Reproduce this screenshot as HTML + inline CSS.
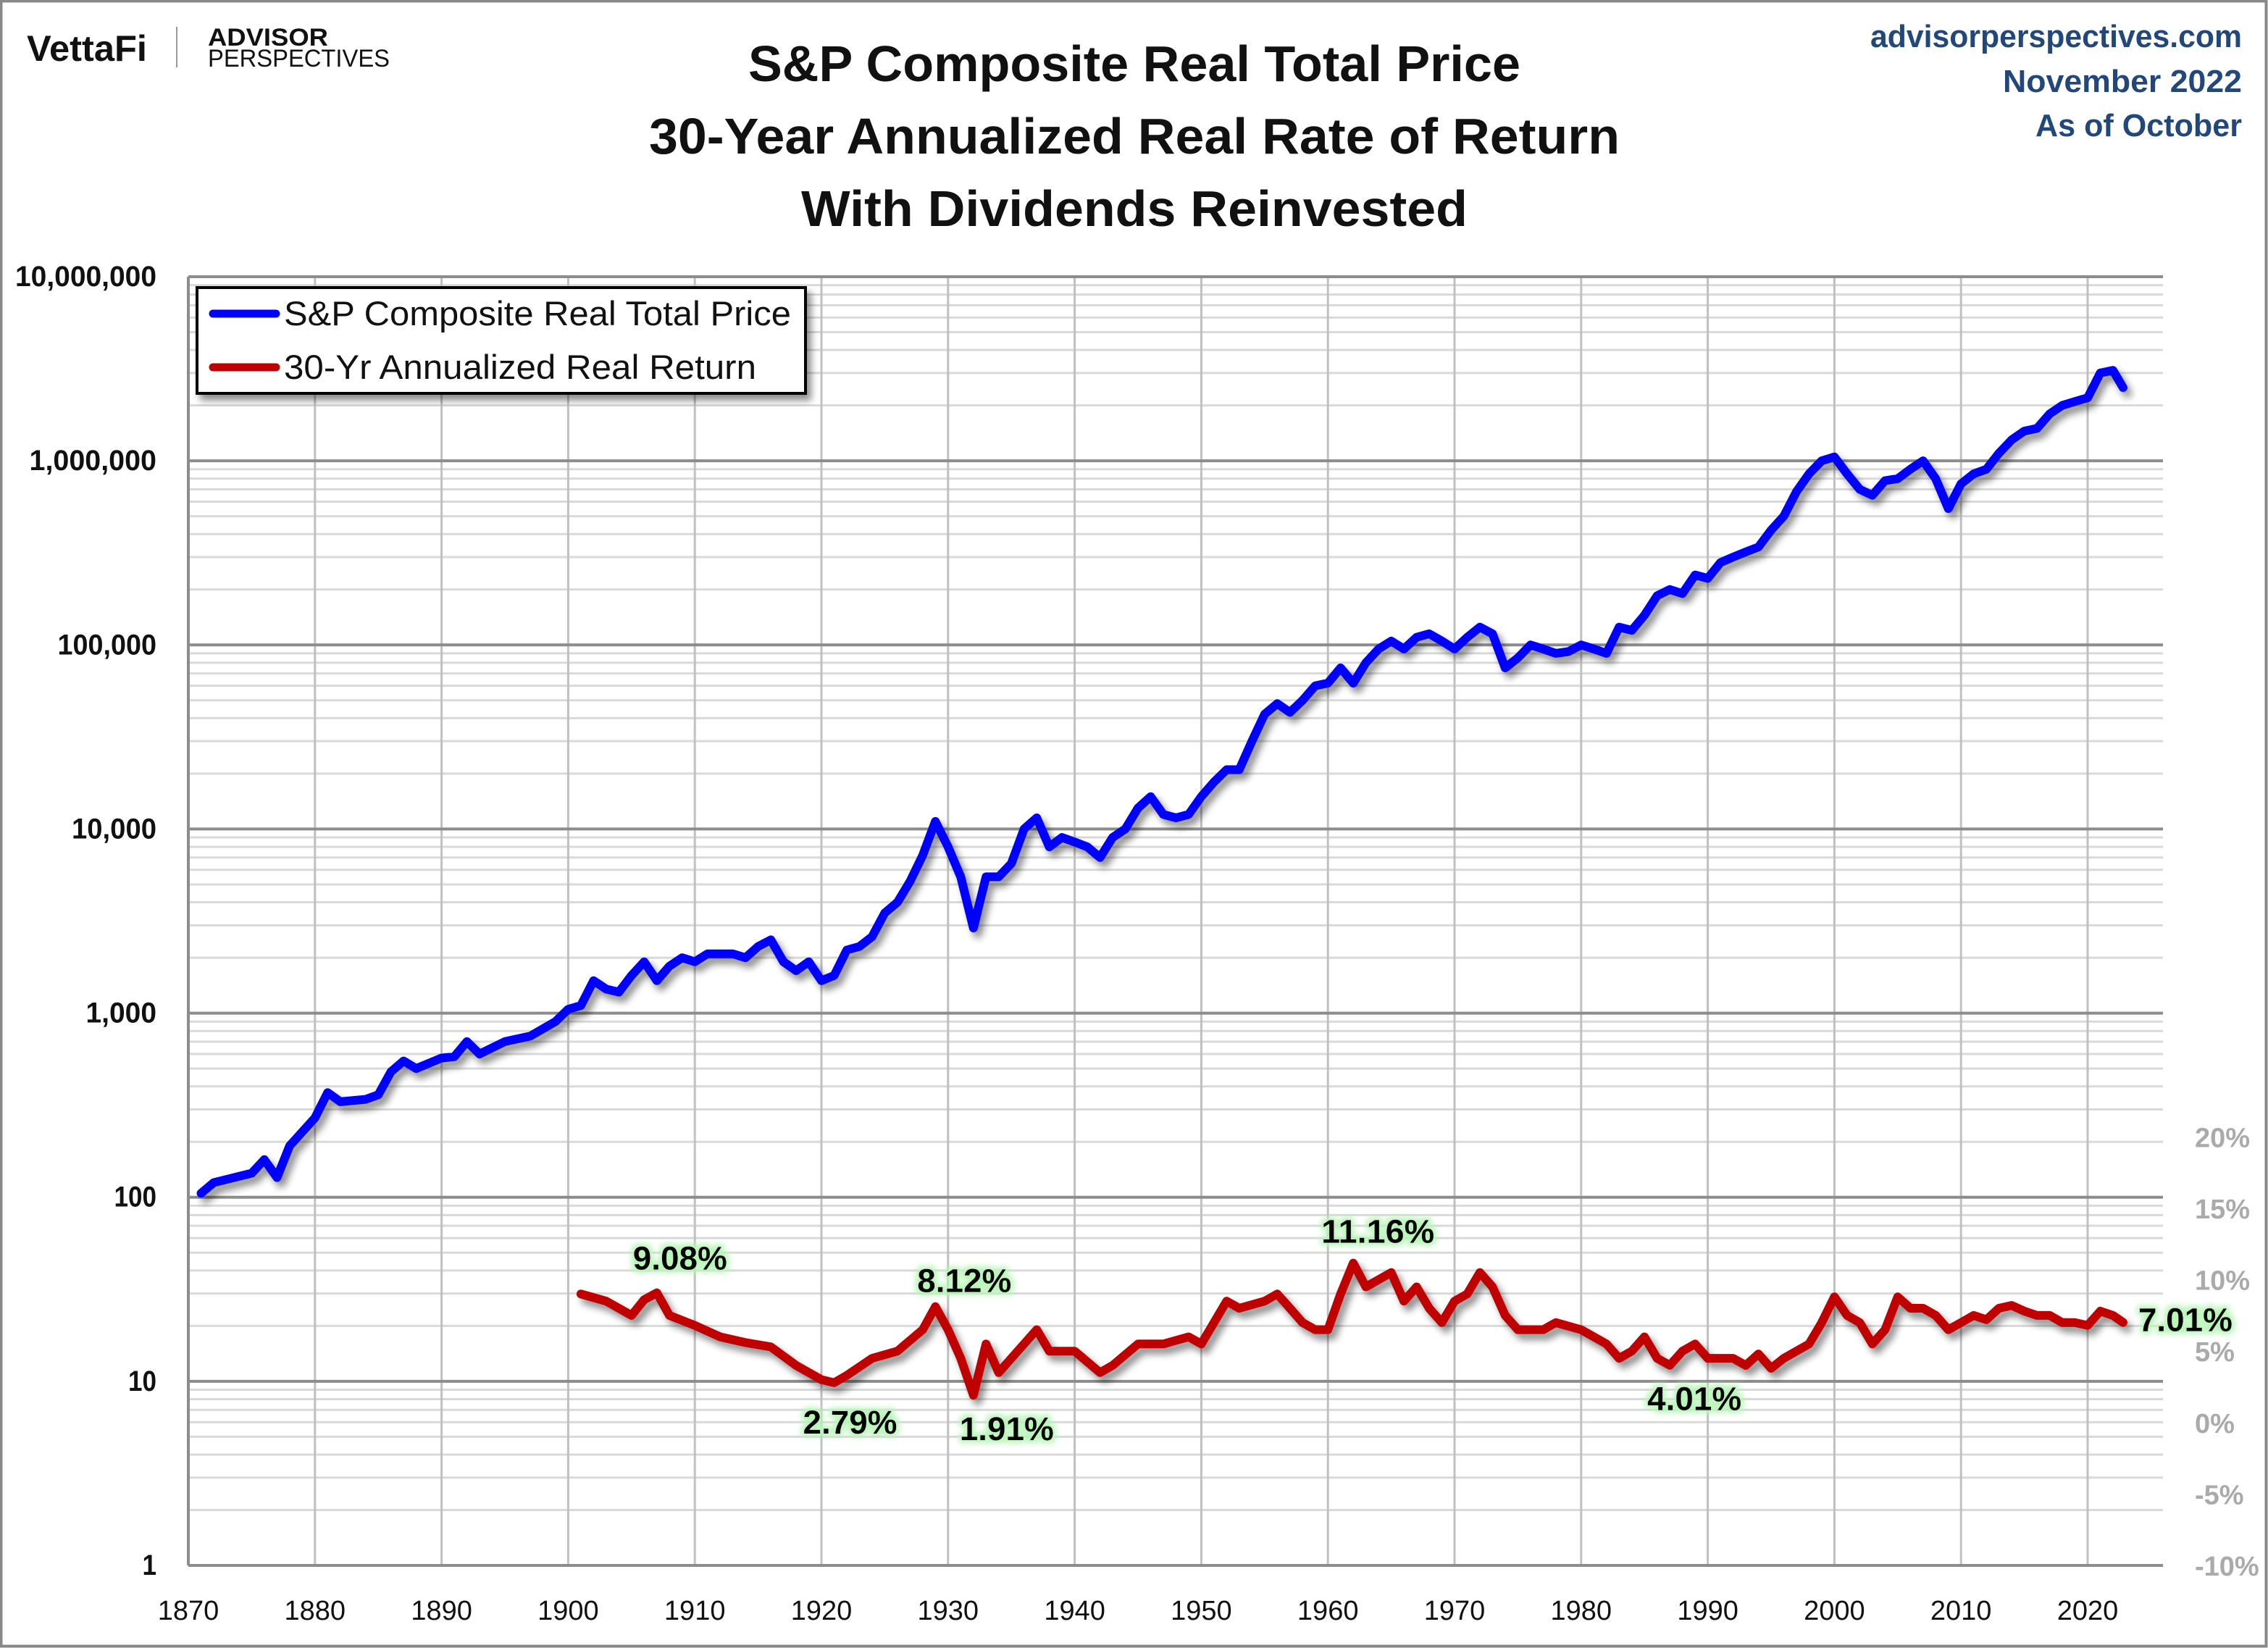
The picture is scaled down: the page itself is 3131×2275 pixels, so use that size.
<!DOCTYPE html>
<html><head><meta charset="utf-8"><style>
html,body{margin:0;padding:0;background:#fff}
svg{display:block}
text{font-family:"Liberation Sans",sans-serif}
</style></head><body>
<svg id="chart" width="3131" height="2275" viewBox="0 0 3131 2275" xmlns="http://www.w3.org/2000/svg">
<defs>
<filter id="sh" x="-5%" y="-5%" width="110%" height="120%"><feGaussianBlur in="SourceAlpha" stdDeviation="5"/><feOffset dx="6" dy="8"/><feComponentTransfer><feFuncA type="linear" slope="0.45"/></feComponentTransfer><feMerge><feMergeNode/><feMergeNode in="SourceGraphic"/></feMerge></filter>
<filter id="glow" x="-20%" y="-40%" width="140%" height="180%"><feMorphology in="SourceAlpha" operator="dilate" radius="4" result="d"/><feGaussianBlur in="d" stdDeviation="4" result="b"/><feFlood flood-color="#b8f5b8"/><feComposite in2="b" operator="in"/><feMerge><feMergeNode/><feMergeNode in="SourceGraphic"/></feMerge></filter>
</defs>
<rect x="1.5" y="1.5" width="3127" height="2271" fill="#fff" stroke="#888" stroke-width="4"/>
<g>
<text x="37" y="84" font-size="50" font-weight="bold" textLength="166" lengthAdjust="spacingAndGlyphs" fill="#111">VettaFi</text>
<line x1="244" y1="37" x2="244" y2="93" stroke="#999" stroke-width="2"/>
<text x="287" y="63" font-size="34" font-weight="bold" textLength="166" lengthAdjust="spacingAndGlyphs" fill="#111">ADVISOR</text>
<text x="287" y="92" font-size="34" textLength="251" lengthAdjust="spacingAndGlyphs" fill="#111">PERSPECTIVES</text>
</g>
<g font-weight="bold" font-size="70" fill="#111" text-anchor="middle">
<text x="1566" y="112" textLength="1066" lengthAdjust="spacingAndGlyphs">S&amp;P Composite Real Total Price</text>
<text x="1566" y="212" textLength="1340" lengthAdjust="spacingAndGlyphs">30-Year Annualized Real Rate of Return</text>
<text x="1566" y="312" textLength="920" lengthAdjust="spacingAndGlyphs">With Dividends Reinvested</text>
</g>
<g font-weight="bold" font-size="44" fill="#22477a" text-anchor="end">
<text x="3095" y="65" textLength="513" lengthAdjust="spacingAndGlyphs">advisorperspectives.com</text>
<text x="3095" y="127" textLength="330" lengthAdjust="spacingAndGlyphs">November 2022</text>
<text x="3095" y="188" textLength="285" lengthAdjust="spacingAndGlyphs">As of October</text>
</g>
<g id="grid"></g>
<g id="axes"></g>
<g id="series"></g>
<g id="annots"></g>
<g filter="url(#sh)">
<rect x="272" y="397" width="840" height="146" fill="#fff" stroke="#000" stroke-width="4"/>
</g>
<g>
<line x1="294" y1="433" x2="381" y2="433" stroke="#0000ff" stroke-width="11" stroke-linecap="round"/>
<text x="392" y="449" font-size="47" textLength="700" lengthAdjust="spacingAndGlyphs" fill="#111">S&amp;P Composite Real Total Price</text>
<line x1="294" y1="507" x2="381" y2="507" stroke="#c00000" stroke-width="11" stroke-linecap="round"/>
<text x="392" y="523" font-size="47" textLength="652" lengthAdjust="spacingAndGlyphs" fill="#111">30-Yr Annualized Real Return</text>
</g>
</svg>
<script>
const priceYears=[1871,1872,1875,1876,1877,1878,1880,1881,1882,1884,1885,1886,1887,1888,1890,1891,1892,1893,1895,1897,1899,1900,1901,1902,1903,1904,1905,1906,1907,1908,1909,1910,1911,1913,1914,1915,1916,1917,1918,1919,1920,1921,1922,1923,1924,1925,1926,1927,1928,1929,1930,1931,1932,1933,1934,1935,1936,1937,1938,1939,1940,1941,1942,1943,1944,1945,1946,1947,1948,1949,1950,1951,1952,1953,1954,1955,1956,1957,1958,1959,1960,1961,1962,1963,1964,1965,1966,1967,1968,1969,1970,1971,1972,1973,1974,1975,1976,1977,1978,1979,1980,1981,1982,1983,1984,1985,1986,1987,1988,1989,1990,1991,1992,1993,1994,1995,1996,1997,1998,1999,2000,2001,2002,2003,2004,2005,2006,2007,2008,2009,2010,2011,2012,2013,2014,2015,2016,2017,2018,2019,2020,2021,2022,2022.8];
const priceValues=[105,120,135,160,128,190,270,370,330,340,360,480,550,500,570,580,700,600,700,750,900,1050,1100,1500,1350,1300,1600,1900,1500,1800,2000,1900,2100,2100,2000,2300,2500,1900,1700,1900,1500,1600,2200,2300,2600,3500,4000,5200,7200,11000,8000,5500,2900,5500,5500,6500,10000,11500,8000,9000,8500,8000,7000,9000,10000,13000,15000,12000,11500,12000,15000,18000,21000,21000,30000,42000,48000,43000,50000,60000,62000,75000,62000,80000,95000,105000,95000,110000,115000,105000,95000,110000,125000,115000,75000,85000,100000,95000,90000,92000,100000,95000,90000,125000,120000,145000,185000,200000,190000,240000,230000,280000,300000,320000,340000,420000,500000,680000,850000,1000000,1050000,850000,700000,650000,780000,800000,900000,1000000,800000,550000,750000,850000,900000,1100000,1300000,1450000,1500000,1800000,2000000,2100000,2200000,3000000,3100000,2500000];
const retYears=[1901,1903,1905,1906,1907,1908,1910,1912,1914,1916,1918,1920,1921,1922,1924,1926,1928,1929,1930,1931,1932,1933,1934,1936,1937,1938,1940,1942,1943,1945,1947,1949,1950,1951,1952,1953,1955,1956,1957,1958,1959,1960,1961,1962,1963,1964,1965,1966,1967,1968,1969,1970,1971,1972,1973,1974,1975,1977,1978,1980,1982,1983,1984,1985,1986,1987,1988,1989,1990,1992,1993,1994,1995,1996,1998,1999,2000,2001,2002,2003,2004,2005,2006,2007,2008,2009,2010,2011,2012,2013,2014,2015,2016,2017,2018,2019,2020,2021,2022,2022.8];
const retValues=[9.0,8.5,7.5,8.6,9.08,7.5,6.8,6.0,5.6,5.3,4.0,3.0,2.79,3.3,4.5,5.0,6.5,8.12,6.5,4.5,1.91,5.5,3.5,5.5,6.5,5.0,5.0,3.5,4.0,5.5,5.5,6.0,5.5,7.0,8.5,8.0,8.5,9.0,8.0,7.0,6.5,6.5,9.0,11.16,9.5,10.0,10.5,8.5,9.5,8.0,7.0,8.5,9.0,10.5,9.5,7.5,6.5,6.5,7.0,6.5,5.5,4.5,5.0,6.0,4.5,4.01,5.0,5.5,4.5,4.5,4.0,4.8,3.8,4.5,5.5,7.0,8.8,7.5,7.0,5.5,6.5,8.8,8.0,8.0,7.5,6.5,7.0,7.5,7.2,8.0,8.2,7.8,7.5,7.5,7.0,7.0,6.8,7.8,7.5,7.01];
const yTickLabels=["1","10","100","1,000","10,000","100,000","1,000,000","10,000,000"];
const xTickLabels=["1870","1880","1890","1900","1910","1920","1930","1940","1950","1960","1970","1980","1990","2000","2010","2020"];
const pctTickLabels=["-10%","-5%","0%","5%","10%","15%","20%"];
const annotLabels=["9.08%","8.12%","2.79%","1.91%","11.16%","4.01%","7.01%"];
const annotYears=[1907,1929,1921,1932,1962,1987,2022.8];
const annotValues=[9.08,8.12,2.79,1.91,11.16,4.01,7.01];

const L=260,R=2986,T=382,B=2161;
const X0=1870,X1=2025.95;
const xS=y=>L+(y-X0)/(X1-X0)*(R-L);
const yS=v=>B-Math.log10(v)/7*(B-T);
const pS=p=>B-(p+10)*19.72;
const NS='http://www.w3.org/2000/svg';
function mk(tag,attrs,parent){const e=document.createElementNS(NS,tag);for(const k in attrs)e.setAttribute(k,attrs[k]);parent.appendChild(e);return e;}
const grid=document.getElementById('grid'),axes=document.getElementById('axes'),series=document.getElementById('series'),ann=document.getElementById('annots');
for(let d=0;d<7;d++){for(let m=2;m<10;m++){const y=yS(m*Math.pow(10,d));const l=mk('line',{x1:L,x2:R,y1:y,y2:y,stroke:'#d9d9d9','stroke-width':3},grid);

}}
xTickLabels.forEach((t,i)=>{const x=xS(+t);if(i>0){const l=mk('line',{x1:x,x2:x,y1:T,y2:B,stroke:'#c0c0c0','stroke-width':3},grid);

}
const tx=mk('text',{x:x,y:2236,'font-size':38,'text-anchor':'middle',fill:'#111'},axes);tx.textContent=t;

});
yTickLabels.forEach((t,i)=>{const y=B-i*(B-T)/7;const l=mk('line',{x1:L,x2:R,y1:y,y2:y,stroke:'#8c8c8c','stroke-width':4},grid);


const tx=mk('text',{x:216,y:y+13,'font-size':40,'font-weight':'bold','text-anchor':'end',fill:'#111',textLength:t.length*19.5,lengthAdjust:'spacingAndGlyphs'},axes);tx.textContent=t;

});
const ax=mk('line',{x1:L,x2:L,y1:T,y2:B,stroke:'#8c8c8c','stroke-width':4},axes);


pctTickLabels.forEach(t=>{const p=parseFloat(t);const tx=mk('text',{x:3030,y:pS(p)+14,'font-size':38,'font-weight':'bold',fill:'#aaa'},axes);tx.textContent=t;

});
const pp=priceYears.map((y,i)=>xS(y).toFixed(1)+','+yS(priceValues[i]).toFixed(1)).join(' ');
const bl=mk('polyline',{points:pp,fill:'none',stroke:'#0000ff','stroke-width':12,'stroke-linejoin':'round','stroke-linecap':'round',filter:'url(#sh)'},series);


const rp=retYears.map((y,i)=>xS(y).toFixed(1)+','+pS(retValues[i]).toFixed(1)).join(' ');
const rl=mk('polyline',{points:rp,fill:'none',stroke:'#c00000','stroke-width':12,'stroke-linejoin':'round','stroke-linecap':'round',filter:'url(#sh)'},series);


const dx=[32,40,22,46,34,34,86],dy=[-48,-36,54,46,-44,46,-4];
annotLabels.forEach((t,i)=>{const tx=mk('text',{x:xS(annotYears[i])+dx[i],y:pS(annotValues[i])+dy[i]+16,'font-size':45,'font-weight':'bold','text-anchor':'middle',fill:'#000',filter:'url(#glow)',textLength:t.length*26,lengthAdjust:'spacingAndGlyphs'},ann);tx.textContent=t;

});
</script>
</body></html>
